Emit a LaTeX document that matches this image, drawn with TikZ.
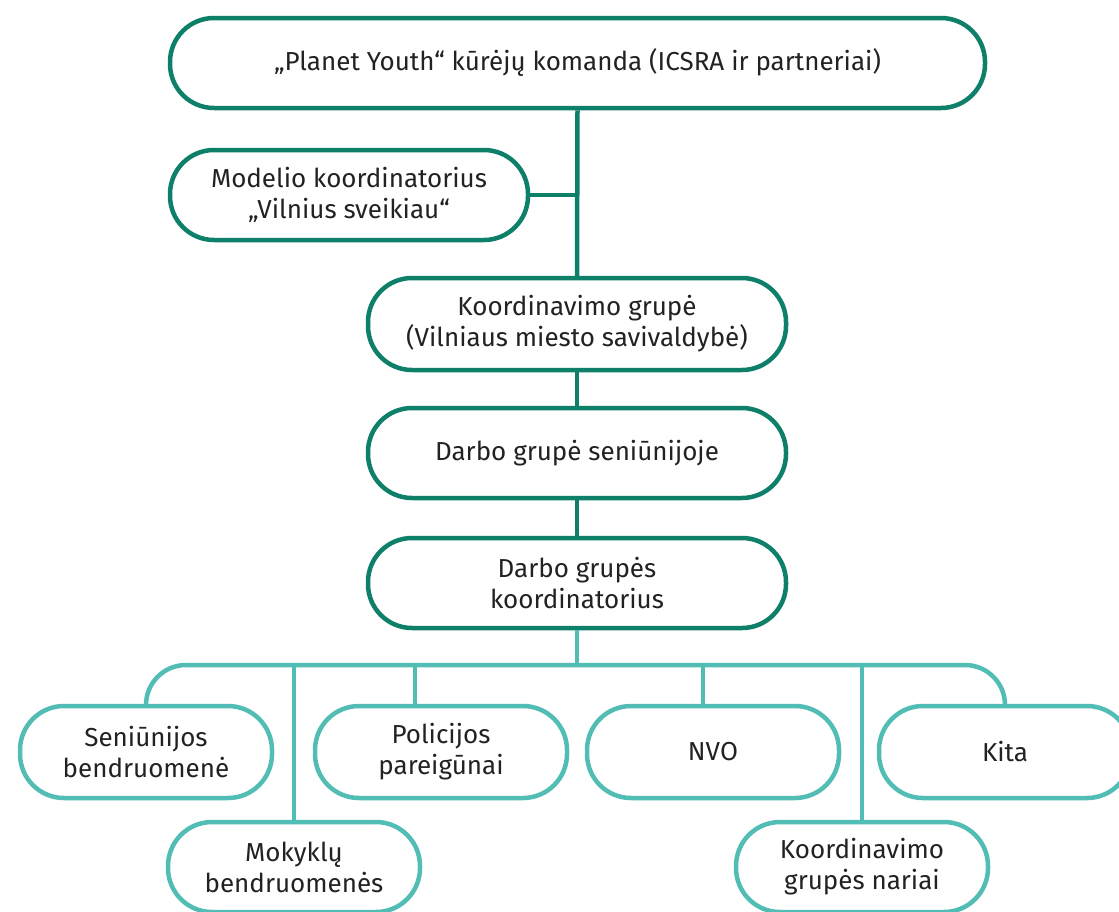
\documentclass[tikz,border=0pt]{standalone}
\usepackage{fontspec}
\setmainfont{Fira Sans}
\definecolor{dkgreen}{HTML}{0E7F68}
\definecolor{tealc}{HTML}{52BDB5}
\definecolor{txt}{HTML}{222222}
\begin{document}
\begin{tikzpicture}[x=1pt,y=-1pt,
  box/.style={draw, rounded corners=44pt, minimum height=90pt, align=center, text=txt,
    font=\fontsize{26}{31}\selectfont, inner sep=0pt, fill=white},
  dbox/.style={box, draw=dkgreen, line width=4.5pt},
  tbox/.style={box, draw=tealc, line width=4.5pt, minimum width=252pt},
  dline/.style={draw=dkgreen, line width=4.5pt},
  tline/.style={draw=tealc, line width=4.5pt}]
\useasboundingbox (0,0) rectangle (1119,911);
% dark boxes
\node[dbox, minimum width=815pt] (top) at (577.5,63) {„Planet Youth“ kūrėjų komanda (ICSRA ir partneriai)};
\node[dbox, minimum width=358pt] (mod) at (349,195) {Modelio koordinatorius\\„Vilnius sveikiau“};
\node[dbox, minimum width=418pt, minimum height=92pt] (kg) at (577,324) {Koordinavimo grupė\\(Vilniaus miesto savivaldybė)};
\node[dbox, minimum width=418pt] (dg) at (577,453) {Darbo grupė seniūnijoje};
\node[dbox, minimum width=418pt] (dgk) at (577,583) {Darbo grupės\\koordinatorius};
% teal boxes
\node[tbox, minimum height=92pt] (sen) at (146,752) {Seniūnijos\\bendruomenė};
\node[tbox, minimum height=92pt] (pol) at (441,752) {Policijos\\pareigūnai};
\node[tbox, minimum height=92pt] (nvo) at (713,752) {NVO};
\node[tbox, minimum height=92pt] (kita) at (1005,752) {Kita};
\node[tbox] (mok) at (294,867) {Mokyklų\\bendruomenės};
\node[tbox] (kn) at (862,867) {Koordinavimo\\grupės nariai};
% coordinates
\coordinate (bar) at (577,665);
\coordinate (polb) at (415,665);
\coordinate (nvob) at (703,665);
% dark connectors
\draw[dline] (top.south) -- (kg.north);
\draw[dline] (mod.east) -- (mod.east -| top.south);
\draw[dline] (kg.south) -- (dg.north);
\draw[dline] (dg.south) -- (dgk.north);
% teal connectors
\draw[tline] (dgk.south) -- (bar);
\draw[tline, rounded corners=40pt] (sen.north) |- (kita.north |- bar) -- (kita.north);
\draw[tline] (polb) -- (polb |- pol.north);
\draw[tline] (nvob) -- (nvob |- nvo.north);
\draw[tline] (mok.north |- bar) -- (mok.north);
\draw[tline] (kn.north |- bar) -- (kn.north);
\end{tikzpicture}
\end{document}
